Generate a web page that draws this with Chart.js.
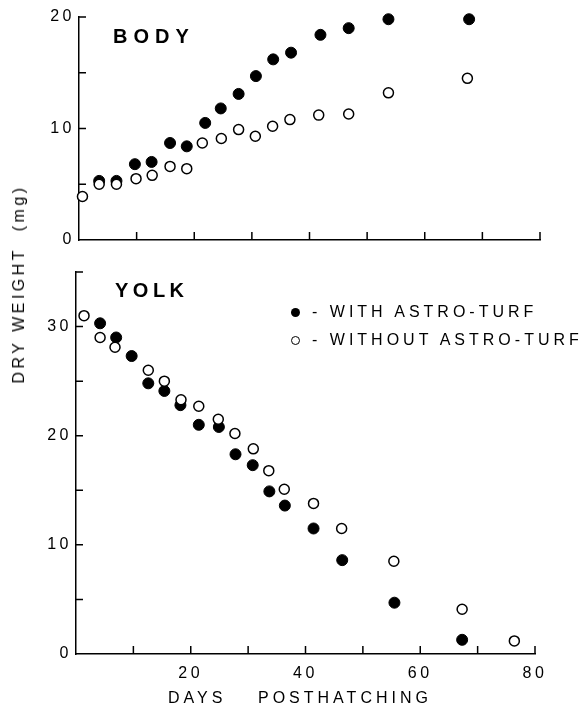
<!DOCTYPE html>
<html>
<head>
<meta charset="utf-8">
<script src="https://cdn.jsdelivr.net/npm/chart.js@4.4.1/dist/chart.umd.min.js"></script>
<style>
  body { margin: 0; background: #fff; }
  #wrap { position: relative; width: 584px; height: 707px; font-family: "Liberation Sans", Arial, sans-serif; color: #000; }
  canvas { position: absolute; left: 0; }
  .txt { position: absolute; white-space: pre; line-height: 1; }
  .panel { font-size: 20px; font-weight: bold; }
  .legend { font-size: 16px; letter-spacing: 4px; }
  .dot { position: absolute; width: 9px; height: 9px; border-radius: 50%; box-sizing: border-box; }
</style>
</head>
<body>
<div id="wrap">
  <canvas id="bodyChart" width="584" height="256" style="top:0"></canvas>
  <canvas id="yolkChart" width="584" height="451" style="top:256px"></canvas>

  <div class="txt panel" style="left:113px; top:26px; letter-spacing:6px">BODY</div>
  <div class="txt panel" style="left:115px; top:280px; letter-spacing:4.5px">YOLK</div>

  <span class="dot" style="left:291px; top:308px; background:#000"></span>
  <div class="txt legend" style="left:312px; top:304px">- WITH ASTRO-TURF</div>
  <span class="dot" style="left:291px; top:336px; border:1.3px solid #000; background:#fff"></span>
  <div class="txt legend" style="left:312px; top:332px">- WITHOUT ASTRO-TURF</div>

  <div class="txt" style="left:19px; top:284px; font-size:16px; letter-spacing:3.5px; transform:translate(-50%,-50%) rotate(-90deg)">DRY WEIGHT  (mg)</div>
  <div class="txt" style="left:168px; top:690px; font-size:16px; letter-spacing:4px">DAYS</div>
  <div class="txt" style="left:258px; top:690px; font-size:16px; letter-spacing:4px">POSTHATCHING</div>
</div>

<script>
// days posthatching and dry weight (mg)
const bodyWithDays = [3.5, 6.5, 9.7, 12.6, 15.8, 18.7, 21.9, 24.6, 27.7, 30.7, 33.7, 36.8, 41.9, 46.8, 53.7, 67.7];
const bodyWithMg = [5.3, 5.3, 6.8, 7.0, 8.7, 8.4, 10.5, 11.8, 13.1, 14.7, 16.2, 16.8, 18.4, 19.0, 19.8, 19.8];
const bodyWithoutDays = [0.6, 3.5, 6.5, 9.9, 12.7, 15.8, 18.7, 21.4, 24.7, 27.7, 30.6, 33.6, 36.6, 41.6, 46.8, 53.7, 67.4];
const bodyWithoutMg = [3.9, 5.0, 5.0, 5.5, 5.8, 6.6, 6.4, 8.7, 9.1, 9.9, 9.3, 10.2, 10.8, 11.2, 11.3, 13.2, 14.5];

const yolkWithDays = [4.2, 7.0, 9.7, 12.6, 15.4, 18.2, 21.4, 24.9, 27.8, 30.8, 33.7, 36.4, 41.4, 46.4, 55.5, 67.3];
const yolkWithMg = [30.3, 29.0, 27.3, 24.8, 24.1, 22.8, 21.0, 20.8, 18.3, 17.3, 14.9, 13.6, 11.5, 8.6, 4.7, 1.3];
const yolkWithoutDays = [1.4, 4.2, 6.8, 12.6, 15.4, 18.3, 21.4, 24.8, 27.7, 30.9, 33.6, 36.3, 41.4, 46.3, 55.4, 67.3, 76.4];
const yolkWithoutMg = [31.0, 29.0, 28.1, 26.0, 25.0, 23.3, 22.7, 21.5, 20.2, 18.8, 16.8, 15.1, 13.8, 11.5, 8.5, 4.1, 1.2];

const dayTicks = ['20', '40', '60', '80'];
const bodyTicks = ['0', '10', '20'];
const yolkTicks = ['0', '10', '20', '30'];

const ink = '#000';

function pts(xs, ys) {
    return xs.map((d, i) => ({ x: d, y: ys[i] }));
}

// tick marks point into the plot, like the printed figure
const inwardTicks = {
    id: 'inwardTicks',
    afterDraw(chart) {
        const { ctx, chartArea, scales: { x, y } } = chart;
        ctx.save();
        ctx.strokeStyle = ink;
        ctx.lineWidth = 1.5;
        ctx.beginPath();
        x.ticks.forEach(t => {
            if (t.value === x.min) return;
            const px = x.getPixelForValue(t.value);
            ctx.moveTo(px, chartArea.bottom);
            ctx.lineTo(px, chartArea.bottom - 8);
        });
        y.ticks.forEach(t => {
            if (t.value === y.min) return;
            const py = y.getPixelForValue(t.value);
            ctx.moveTo(chartArea.left, py);
            ctx.lineTo(chartArea.left + 7, py);
        });
        ctx.stroke();
        ctx.restore();
    }
};

// wide spaced tick numbers
const spacedText = {
    id: 'spacedText',
    beforeDraw(chart) {
        chart.ctx.letterSpacing = '3.5px';
    }
};

function makeChart(id, withPts, withoutPts, yMax, yLabels, xLabels, axisW, xAxisH, padTop, padRight) {
    return new Chart(document.getElementById(id), {
        type: 'scatter',
        data: {
            datasets: [{
                label: 'WITHOUT ASTRO-TURF',
                data: withoutPts,
                pointRadius: 5,
                pointBorderWidth: 1.5,
                pointBorderColor: ink,
                pointBackgroundColor: '#fff',
                clip: false
            }, {
                label: 'WITH ASTRO-TURF',
                data: withPts,
                pointRadius: 5.5,
                pointBorderWidth: 1,
                pointBorderColor: ink,
                pointBackgroundColor: ink,
                clip: false
            }]
        },
        options: {
            responsive: false,
            animation: false,
            layout: { padding: { top: padTop, right: padRight, left: 0, bottom: 0 } },
            plugins: { legend: { display: false }, tooltip: { enabled: false } },
            scales: {
                x: {
                    type: 'linear',
                    min: 0,
                    max: 80,
                    grid: { display: false, drawTicks: false },
                    border: { color: ink, width: 1.5 },
                    ticks: {
                        stepSize: 10,
                        autoSkip: false,
                        maxRotation: 0,
                        padding: 10,
                        color: ink,
                        font: { family: 'Liberation Sans', size: 16 },
                        callback: v => xLabels.includes(String(v)) ? String(v) : ''
                    },
                    afterFit: s => { s.height = xAxisH; }
                },
                y: {
                    min: 0,
                    max: yMax,
                    grid: { display: false, drawTicks: false },
                    border: { color: ink, width: 1.5 },
                    ticks: {
                        stepSize: 5,
                        autoSkip: false,
                        padding: 4,
                        color: ink,
                        font: { family: 'Liberation Sans', size: 16 },
                        callback: v => yLabels.includes(String(v)) ? String(v) : ''
                    },
                    afterFit: s => { s.width = axisW; }
                }
            }
        },
        plugins: [inwardTicks, spacedText]
    });
}

makeChart('bodyChart', pts(bodyWithDays, bodyWithMg), pts(bodyWithoutDays, bodyWithoutMg),
    20, bodyTicks, [], 79, 16, 17, 44);
makeChart('yolkChart', pts(yolkWithDays, yolkWithMg), pts(yolkWithoutDays, yolkWithoutMg),
    35, yolkTicks, dayTicks, 76, 53, 16, 49);
</script>
</body>
</html>
